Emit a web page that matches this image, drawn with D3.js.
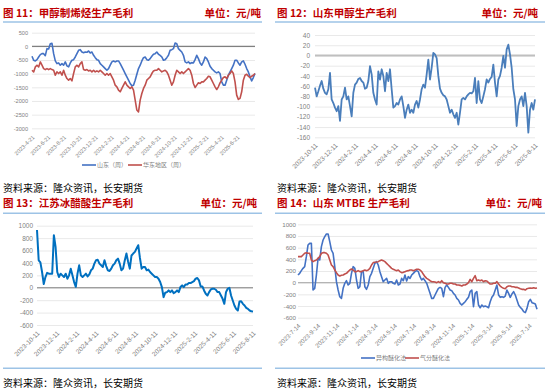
<!DOCTYPE html>
<html><head><meta charset="utf-8">
<script src="https://cdn.jsdelivr.net/npm/d3@7"></script>
<style>body{margin:0;background:#fff}svg{display:block}</style>
</head><body><svg id="c" width="550" height="391"></svg>
<script>
// ---------- Panel 11: 甲醇制烯烃生产毛利 (weekly) ----------
const p1Start = '2023-4-21', p1End = '2025-8-29';
const p1Ticks = ['2023-4-21','2023-6-21','2023-8-21','2023-10-21','2023-12-21','2024-2-21','2024-4-21','2024-6-21','2024-8-21','2024-10-21','2024-12-21','2025-2-21','2025-4-21','2025-6-21'];
const p1YTicks = [500,0,-500,-1000,-1500,-2000,-2500,-3000];
const p1Shandong = [-364,-510,-534,-486,-388,-303,-267,-267,-340,-85,-97,97,110,-267,-534,-630,-607,-690,-630,-690,-570,-716,-752,-607,-510,-486,-388,-267,-146,-121,-206,-230,-206,-218,-170,-243,-206,-328,-413,-486,-510,-630,-690,-752,-813,-874,-813,-690,-570,-534,-570,-534,-534,-630,-752,-874,-995,-1117,-1238,-1360,-1445,-1420,-1238,-1020,-813,-690,-534,-413,-388,-486,-510,-449,-364,-291,-267,-206,-291,-328,-388,-510,-486,-413,-328,-146,-121,-85,121,97,-85,-146,-206,-328,-570,-607,-570,-630,-595,-607,-486,-328,-449,-607,-690,-570,-388,-449,-570,-728,-813,-874,-935,-971,-935,-995,-1299,-1420,-1420,-1238,-1056,-935,-813,-690,-510,-510,-607,-690,-570,-534,-655,-813,-935,-1117,-1262,-1141,-995];
const p1Huadong = [-874,-935,-752,-690,-752,-570,-690,-813,-850,-813,-850,-813,-850,-874,-1056,-935,-995,-935,-1056,-874,-1056,-1178,-1238,-1178,-1262,-995,-752,-690,-752,-630,-570,-850,-874,-850,-898,-874,-935,-874,-935,-898,-935,-874,-935,-995,-1056,-995,-1056,-995,-1117,-1238,-1420,-1481,-1602,-1663,-1542,-1420,-1299,-1420,-1481,-1542,-1481,-1602,-1967,-2331,-2400,-1967,-1724,-1542,-1420,-1238,-1178,-1117,-995,-898,-874,-874,-813,-874,-935,-898,-874,-935,-1056,-1238,-1420,-1299,-1056,-874,-935,-995,-935,-995,-935,-874,-813,-874,-1056,-1360,-1505,-1420,-1335,-1360,-1299,-1299,-1238,-1178,-1093,-1117,-1238,-1360,-1481,-1578,-1481,-1335,-1238,-1141,-1117,-1178,-1056,-995,-898,-995,-1299,-1785,-1942,-1906,-1663,-1238,-1056,-1020,-1093,-1141,-1093,-1056,-995];

// ---------- Panel 12: 山东甲醇生产毛利 (daily) ----------
const p2Start = '2023-10-11', p2End = '2025-8-11';
const p2Ticks = ['2023-10-11','2023-12-11','2024-2-11','2024-4-11','2024-6-11','2024-8-11','2024-10-11','2024-12-11','2025-2-11','2025-4-11','2025-6-11','2025-8-11'];
const p2YTicks = [40,20,0,-20,-40,-60,-80,-100,-120,-140,-160];
const p2Shandong = [-63,-80,-70,-59,-50,-65,-73,-76,-66,-34,-86,-93,-102,-109,-99,-128,-86,-80,-63,-86,-80,-99,-119,-73,-57,-53,-46,-44,-50,-53,-65,-63,-50,-21,-37,-73,-86,-96,-31,-47,-27,-40,-70,-34,-50,-27,-66,-102,-99,-93,-96,-86,-80,-99,-122,-106,-96,-112,-106,-112,-96,-89,-102,-86,-66,-57,-63,-37,-8,-47,-24,5,2,-5,-40,-65,-73,-78,-80,-86,-99,-112,-106,-115,-122,-112,-135,-112,-86,-83,-86,-80,-76,-73,-74,-70,-44,-93,-50,-86,-93,-80,-66,-47,-53,-46,-42,-18,-53,-80,-47,-40,-24,-1,-24,12,21,2,-24,-66,-86,-138,-99,-86,-80,-99,-73,-99,-151,-106,-93,-106,-86];

// ---------- Panel 13: 江苏冰醋酸生产毛利 ----------
const p3Start = '2023-10-11', p3End = '2025-8-11';
const p3Ticks = p2Ticks;
const p3YTicks = [1000,800,600,400,200,0,-200,-400,-600];
const p3Jiangsu = [930,443,410,254,60,173,240,227,227,227,848,660,254,173,227,200,173,227,146,200,308,200,92,15,227,362,200,173,200,227,184,216,281,308,389,443,450,389,362,335,443,350,281,270,308,362,389,443,470,389,281,308,440,551,420,308,520,551,578,632,686,480,308,335,335,281,292,254,227,200,173,173,146,92,11,-151,-80,-70,-43,-70,-43,-86,-70,-43,-70,11,38,11,54,54,76,76,92,108,146,157,119,22,22,-43,-97,-124,-70,-27,-16,-16,-32,-70,-70,-124,-178,-259,-70,-16,0,-124,-205,-286,-340,-367,-220,-216,-259,-286,-324,-340,-367,-378,-383];

// ---------- Panel 14: 山东 MTBE 生产毛利 ----------
const p4Start = '2023-7-14', p4End = '2025-8-8';
const p4Ticks = ['2023-7-14','2023-9-14','2023-11-14','2024-1-14','2024-3-14','2024-5-14','2024-7-14','2024-9-14','2024-11-14','2025-1-14','2025-3-14','2025-5-14','2025-7-14'];
const p4YTicks = [1000,800,600,400,200,0,-200,-400,-600];
const p4Isomer = [131,160,206,246,274,446,646,674,674,-126,-97,131,417,389,617,731,789,834,834,703,560,503,274,17,-126,-240,-269,-97,-11,34,-40,-11,160,274,246,46,-97,-69,189,189,-69,-114,-40,103,160,246,331,360,303,189,103,17,46,74,-11,17,17,-11,-23,46,-40,-23,74,34,131,29,103,74,131,160,189,206,189,103,46,74,34,-11,-97,-183,-269,-269,-211,-154,-97,-80,-97,-240,-80,-40,-80,-126,-137,-183,-211,-269,-297,-354,-383,-354,-326,-286,-251,-154,-126,-411,-183,-154,-383,-429,-383,-411,-400,-411,-429,-326,-251,-211,-126,-40,-211,-251,-240,-251,-229,-126,-183,-251,-194,-154,-211,-297,-383,-423,-451,-497,-514,-440,-326,-286,-343,-354,-366,-457];
const p4Gas = [446,446,446,474,503,514,503,503,389,360,377,389,417,446,503,514,514,503,474,389,303,274,217,171,131,114,126,131,149,160,189,217,234,217,189,189,206,189,189,206,217,206,217,246,303,343,349,354,360,377,389,377,360,331,303,274,246,229,217,206,217,189,171,177,189,200,206,217,217,206,217,229,229,217,189,143,103,74,57,34,17,17,11,0,17,0,34,0,-11,-23,-23,-11,-11,-23,-23,-40,-40,-46,-57,-40,-40,-23,0,57,17,74,120,34,46,34,46,17,34,29,0,-23,-23,-11,-11,17,-23,-57,-80,-97,-103,-69,-57,-57,-69,-69,-80,-80,-91,-103,-114,-114,-126,-103,-97,-91,-97,-86,-97,-91];

const parse = d3.timeParse('%Y-%m-%d');
const fmt = d3.timeFormat('%Y-%-m-%-d');
const svg = d3.select('#c');
const NUMF = '"Liberation Sans","Noto Sans CJK SC",sans-serif';
const CJK = '"Noto Sans CJK SC",sans-serif';

function seriesDates(start, end, n) {
  const a = parse(start).getTime(), b = parse(end).getTime();
  return d3.range(n).map(i => new Date(a + (b - a) * i / (n - 1)));
}

function panel(o) {
  const g = svg.append('g');
  g.append('text').attr('x', o.tx).attr('y', o.ty).attr('xml:space', 'preserve').text(o.title)
    .attr('fill', '#C00000').attr('font-weight', 'bold').attr('font-size', 10.5).attr('font-family', CJK);
  g.append('text').attr('x', o.ux).attr('y', o.ty).attr('text-anchor', 'end').text('单位：元/吨')
    .attr('fill', '#C00000').attr('font-weight', 'bold').attr('font-size', 10.5).attr('font-family', CJK);
  g.append('line').attr('x1', o.sepX[0]).attr('x2', o.sepX[1]).attr('y1', o.sepY).attr('y2', o.sepY)
    .attr('stroke', '#9DC3E6').attr('stroke-width', 1.6);
  if (o.botY) g.append('line').attr('x1', o.sepX[0]).attr('x2', o.sepX[1]).attr('y1', o.botY).attr('y2', o.botY)
    .attr('stroke', '#9DC3E6').attr('stroke-width', 1.6);

  const x = d3.scaleTime().domain([parse(o.start), parse(o.end)]).range([o.x0, o.x1]);
  const yt = o.yTicks;
  const y = d3.scaleLinear().domain([d3.min(yt), d3.max(yt)]).range([o.yb, o.yt]);

  const grid = g.append('g').attr('transform', `translate(${o.x0},0)`)
    .call(d3.axisLeft(y).tickValues(yt).tickSize(-(o.x1 - o.x0)).tickFormat(''));
  grid.select('.domain').remove();
  grid.selectAll('line').attr('stroke', '#E3E3E3').attr('stroke-width', 0.8);
  const ya = g.append('g').attr('transform', `translate(${o.ylx},0)`)
    .call(d3.axisLeft(y).tickValues(yt).tickSize(0).tickPadding(0).tickFormat(d => String(d)));
  ya.select('.domain').remove();
  ya.selectAll('text').attr('fill', '#7F7F7F').attr('font-size', o.fs).attr('font-family', NUMF);
  g.append('line').attr('x1', o.x0).attr('x2', o.x1).attr('y1', y(0)).attr('y2', y(0))
    .attr('stroke', o.zeroColor).attr('stroke-width', o.zeroW);
  const xa = g.append('g').attr('transform', `translate(0,${o.yb})`)
    .call(d3.axisBottom(x).tickValues(o.xTicks.map(parse)).tickSize(0).tickFormat(fmt));
  xa.select('.domain').remove();
  xa.selectAll('text').attr('x', null).attr('y', 0).attr('dy', '0.35em')
    .attr('transform', `translate(1,${o.xlOff}) rotate(-45)`).attr('text-anchor', 'end')
    .attr('fill', '#7F7F7F').attr('font-size', o.fs).attr('font-family', NUMF);

  const line = d3.line().x(d => x(d[0])).y(d => y(d[1]));
  o.series.forEach(s => {
    const ds = seriesDates(o.start, o.end, s.values.length);
    g.append('path').datum(ds.map((d, i) => [d, s.values[i]]))
      .attr('fill', 'none').attr('stroke', s.color).attr('stroke-width', s.w)
      .attr('stroke-linejoin', 'round').attr('d', line);
  });

  if (o.legend) {
    o.legend.forEach(l => {
      g.append('line').attr('x1', l.x).attr('x2', l.x + 14).attr('y1', o.legY).attr('y2', o.legY)
        .attr('stroke', l.color).attr('stroke-width', 1.6);
      g.append('text').attr('x', l.x + 15).attr('y', o.legY).attr('dy', '0.35em').text(l.label)
        .attr('fill', '#7F7F7F').attr('font-size', 6).attr('font-family', CJK);
    });
  }
  g.append('text').attr('x', o.tx).attr('y', o.srcY).text('资料来源：隆众资讯，长安期货')
    .attr('fill', '#000').attr('font-size', 10).attr('font-family', CJK);
}

panel({title: '图 11：甲醇制烯烃生产毛利', tx: 3, ux: 261, ty: 16.5, sepX: [3, 262], sepY: 22,
  start: p1Start, end: p1End, x0: 32, x1: 255, yTicks: p1YTicks, yb: 128.3, yt: 32.7, ylx: 28, fs: 5.6,
  xTicks: p1Ticks, xlOff: 8, zeroColor: '#808080', zeroW: 1.3,
  series: [{values: p1Shandong, color: '#4472C4', w: 1.6}, {values: p1Huadong, color: '#C0504D', w: 1.6}],
  legend: [{x: 82, color: '#4472C4', label: '山东（周）'}, {x: 128, color: '#C0504D', label: '华东地区（周）'}], legY: 165,
  srcY: 191.5});

panel({title: '图 12：山东甲醇生产毛利', tx: 277, ux: 538, ty: 16.5, sepX: [275, 545], sepY: 22,
  start: p2Start, end: p2End, x0: 315, x1: 535, yTicks: p2YTicks, yb: 137.3, yt: 35, ylx: 310, fs: 6.5,
  xTicks: p2Ticks, xlOff: 7, zeroColor: '#BFBFBF', zeroW: 2,
  series: [{values: p2Shandong, color: '#4A7EBB', w: 1.8}],
  srcY: 191.5});

panel({title: '图 13：江苏冰醋酸生产毛利', tx: 3, ux: 257, ty: 207, sepX: [3, 262], sepY: 213.3, botY: 368.3,
  start: p3Start, end: p3End, x0: 37, x1: 253, yTicks: p3YTicks, yb: 325, yt: 225.7, ylx: 33, fs: 6.5,
  xTicks: p3Ticks, xlOff: 7, zeroColor: '#808080', zeroW: 1,
  series: [{values: p3Jiangsu, color: '#0070C0', w: 2}],
  srcY: 387});

panel({title: '图 14：山东 MTBE 生产毛利', tx: 277, ux: 542, ty: 207, sepX: [275, 545], sepY: 213.3, botY: 368.3,
  start: p4Start, end: p4End, x0: 298, x1: 537, yTicks: p4YTicks, yb: 317.7, yt: 224.3, ylx: 296, fs: 6.2,
  xTicks: p4Ticks, xlOff: 7, zeroColor: '#A6A6A6', zeroW: 1,
  series: [{values: p4Isomer, color: '#4472C4', w: 1.6}, {values: p4Gas, color: '#C0504D', w: 1.6}],
  legend: [{x: 361, color: '#4472C4', label: '异构醚化法'}, {x: 405, color: '#C0504D', label: '气分醚化法'}], legY: 358,
  srcY: 387});
</script></body></html>
